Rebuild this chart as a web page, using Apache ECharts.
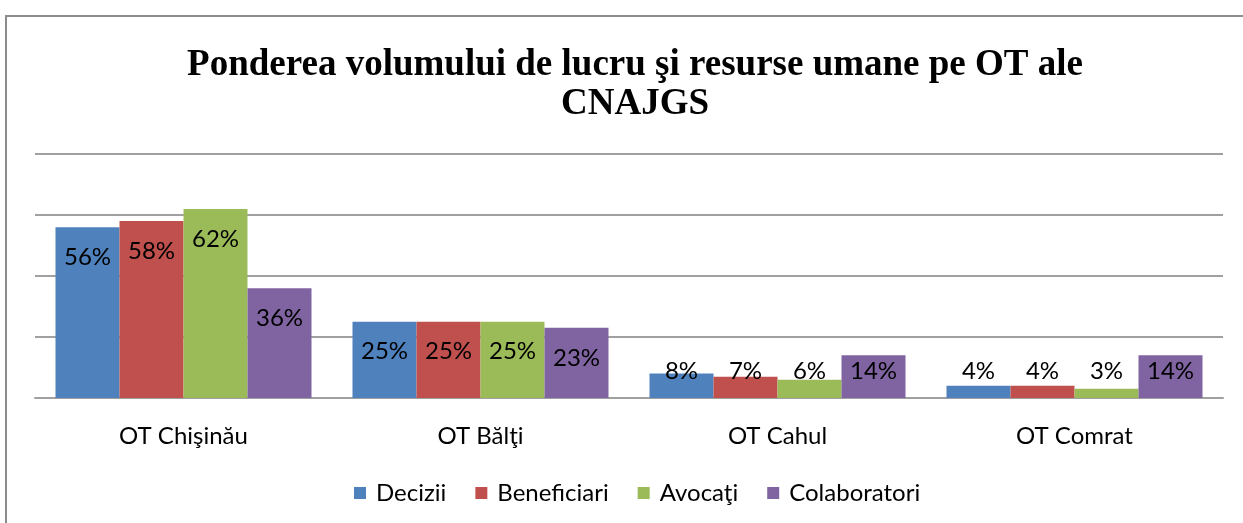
<!DOCTYPE html>
<html lang="ro">
<head>
    <meta charset="UTF-8">
    <title>Ponderea volumului de lucru</title>
    <style>
        html, body { margin: 0; padding: 0; background: #fff; }
        #main { width: 1243px; height: 523px; }
    </style>
</head>
<body>
<div id="main"></div>

<script src="https://cdn.jsdelivr.net/npm/echarts@6.0.0/dist/echarts.min.js"></script>
<script>
    // date (procente)
    var categories = ['OT Chişinău', 'OT Bălţi', 'OT Cahul', 'OT Comrat'];
    var decizii = [56, 25, 8, 4];
    var beneficiari = [58, 25, 7, 4];
    var avocati = [62, 25, 6, 3];
    var colaboratori = [36, 23, 14, 14];
    var seriesNames = ['Decizii', 'Beneficiari', 'Avocaţi', 'Colaboratori'];
    var colors = ['#4F81BD', '#C0504D', '#9BBB59', '#8064A2'];

    var labelFont = 'Lato, "Noto Sans", sans-serif';

    // eticheta sus in interior, sau jos daca bara e prea mica
    function toData(values) {
        return values.map(function (v) {
            var lbl = v >= 20
                ? { position: 'insideTop', distance: 18 }
                : { position: 'insideBottom', distance: 15 };
            return { value: v, label: lbl };
        });
    }

    var allSeries = [decizii, beneficiari, avocati, colaboratori].map(function (vals, i) {
        return {
            name: seriesNames[i],
            type: 'bar',
            data: toData(vals),
            barGap: '0%',
            barCategoryGap: '13.8%',
            itemStyle: { color: colors[i] },
            label: {
                show: true,
                formatter: '{c}%',
                color: '#000',
                fontFamily: labelFont,
                fontSize: 24
            }
        };
    });

    var myChart = echarts.init(document.getElementById('main'));
    var option = {
        animation: false,
        backgroundColor: '#fff',
        title: {
            text: 'Ponderea volumului de lucru şi resurse umane pe OT ale\nCNAJGS',
            left: 630,
            top: 41,
            textAlign: 'center',
            textStyle: {
                fontFamily: '"Liberation Serif", "DejaVu Serif", serif',
                fontWeight: 'bold',
                fontSize: 37,
                lineHeight: 39,
                color: '#000'
            }
        },
        legend: {
            left: 349,
            top: 476,
            itemWidth: 12,
            itemHeight: 12,
            itemGap: 29,
            icon: 'rect',
            textStyle: {
                fontFamily: labelFont,
                fontSize: 24,
                color: '#000',
                padding: [0, 0, 0, 5]
            },
            data: seriesNames
        },
        grid: {
            left: 35,
            right: 20,
            top: 154,
            bottom: 125,
            containLabel: false
        },
        xAxis: {
            type: 'category',
            data: categories,
            axisLine: { lineStyle: { color: '#a0a0a0', width: 2 } },
            axisTick: { show: false },
            axisLabel: {
                margin: 26,
                color: '#000',
                fontFamily: labelFont,
                fontSize: 24
            }
        },
        yAxis: {
            type: 'value',
            min: 0,
            max: 80,
            interval: 20,
            axisLabel: { show: false },
            axisLine: { show: false },
            axisTick: { show: false },
            splitLine: { lineStyle: { color: '#a0a0a0', width: 2 } }
        },
        graphic: [{
            type: 'rect',
            shape: { x: 6, y: 16, width: 1300, height: 600 },
            style: { fill: 'none', stroke: '#8c8c8c', lineWidth: 2 },
            silent: true
        }],
        series: allSeries
    };

    myChart.setOption(option);
</script>
</body>
</html>
